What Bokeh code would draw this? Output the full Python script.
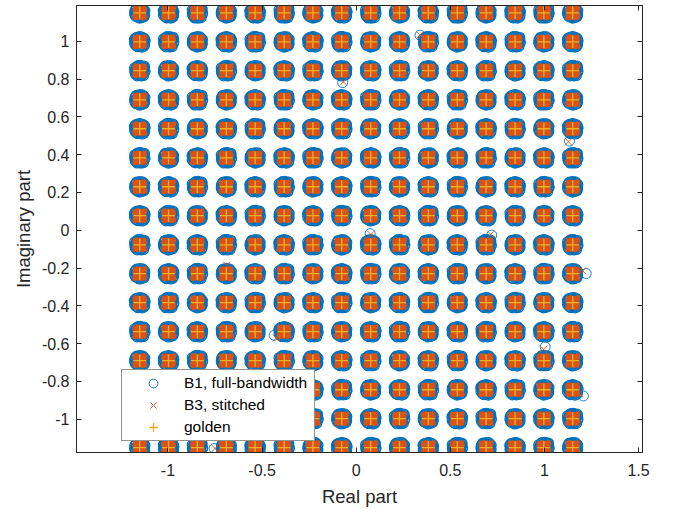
from bokeh.plotting import figure
from bokeh.models import Range1d, FixedTicker, LinearAxis, CustomJSTickFormatter, Legend, LegendItem
from bokeh.embed import file_html
from bokeh.resources import INLINE

# ---- data ----
# golden 256-QAM levels (both I and Q)
levels = [-1.150, -0.997, -0.844, -0.690, -0.537, -0.383, -0.230, -0.077,
          0.077, 0.230, 0.383, 0.537, 0.690, 0.844, 0.997, 1.150]

# cluster spread (offsets in thousandths of a unit)
b1_pattern_a = [(0, 3), (12, -8), (-10, 11), (5, -19), (-18, 2), (20, 10), (-3, -24), (9, 21), (-14, -12), (16, -4),
                (-22, 14), (2, 8), (25, -6), (-7, 18), (11, 16), (-25, -9), (18, -17), (-12, -22), (4, -2), (-5, 24),
                (14, 26), (-20, 19), (23, 6), (-15, 5), (8, -14), (-1, -28), (27, 12), (-27, -3), (6, 1), (-9, -6),
                (19, 20), (-21, -18), (-17, 24), (22, -21), (-26, 10), (26, -13), (0, 27), (-4, -15), (10, -25), (-24, -12)]
b1_pattern_b = [(3, -2), (-13, 7), (10, 13), (-6, -17), (19, -11), (-21, -5), (1, 22), (15, 4), (-9, -26), (24, 17),
                (-17, 16), (7, -23), (-26, 8), (13, -19), (-4, 12), (21, -1), (-11, -13), (28, 3), (-2, 27), (-19, -20),
                (9, 9), (-24, 1), (17, 22), (-8, -9), (5, -10), (-15, 23), (12, -28), (26, -15), (-28, 12), (0, -5),
                (-22, 20), (22, -24), (6, 26), (-27, -10), (18, 14), (-12, -25), (27, 8), (-6, 19), (14, -8), (-18, -3)]
b1_pattern_c = [(-2, 0), (9, -12), (-12, 9), (18, 5), (-7, -21), (4, 19), (-20, -8), (14, -20), (22, 14), (-16, 20),
                (7, 26), (-25, 3), (26, -8), (-10, -16), (1, -26), (16, 12), (-3, 14), (11, 3), (-18, -1), (24, 24),
                (-23, -17), (13, -4), (-6, 6), (6, -6), (-14, -27), (20, -25), (-27, 15), (3, 28), (-11, 24), (28, -2),
                (-26, -6), (17, -14), (-9, 27), (25, 18), (-19, 13), (9, -27), (-15, -19), (21, 7), (-1, -12), (12, 22)]
b3_pattern_a = [(0, 0), (8, -5), (-7, 6), (12, 10), (-11, -9), (4, 13), (-5, -12), (14, -2), (-14, 3), (9, 7),
                (-9, -3), (2, -8), (-3, 9), (6, -13), (-12, 12), (11, -11), (-1, 4), (5, 2), (-6, -6), (13, 14),
                (-13, -13), (15, 5), (-15, -6), (3, 15), (-4, -15), (10, -9), (-10, 10), (7, 4)]
b3_pattern_b = [(1, -1), (-8, 4), (7, 8), (-10, -11), (12, -7), (-4, 14), (3, -14), (-13, -2), (10, 2), (-2, -6),
                (6, 11), (-12, 8), (14, -12), (-6, -3), (4, -4), (-9, 13), (0, 7), (8, -10), (-14, -9), (11, 12),
                (15, -3), (-15, 5), (-2, -15), (5, 15), (13, 6), (-7, -13), (-11, 1), (9, -1)]

# isolated symbols
b1_outliers_x = [0.339, -0.072, 1.133, 0.074, 0.720, 1.222, 1.004, 1.207, -0.436, -0.755]
b1_outliers_y = [1.032, 0.781, 0.472, -0.018, -0.026, -0.229, -0.617, -0.877, -0.556, -1.155]
b3_outliers_x = [0.339, -0.068, 1.128, 0.078, 0.715, 1.204, 0.995, 1.185, -0.425, -0.750, -0.688]
b3_outliers_y = [1.032, 0.785, 0.468, -0.022, -0.022, -0.215, -0.630, -0.862, -0.570, -1.155, -0.185]

x_ticks = [-1, -0.5, 0, 0.5, 1, 1.5]
y_ticks = [-1, -0.8, -0.6, -0.4, -0.2, 0, 0.2, 0.4, 0.6, 0.8, 1]

series_names = ["B1, full-bandwidth", "B3, stitched", "golden"]

# ---- build point sets ----
b1_patterns = [b1_pattern_a, b1_pattern_b, b1_pattern_c]
b3_patterns = [b3_pattern_a, b3_pattern_b]
gx, gy, b1x, b1y, b3x, b3y = [], [], [], [], [], []
for i, xi in enumerate(levels):
    for j, yj in enumerate(levels):
        gx.append(xi)
        gy.append(yj)
        for dx, dy in b1_patterns[(i + 2 * j) % 3]:
            b1x.append(xi + dx / 1000.0)
            b1y.append(yj + dy / 1000.0)
        for dx, dy in b3_patterns[(i + j) % 2]:
            b3x.append(xi + dx / 1000.0)
            b3y.append(yj + dy / 1000.0)

FONT = "Liberation Sans"
TXT = "#262626"

p = figure(width=670, height=512, output_backend="svg", toolbar_location=None,
           x_range=Range1d(-1.486, 1.521), y_range=Range1d(-1.176, 1.189),
           min_border_left=76, min_border_right=28, min_border_top=5, min_border_bottom=60)
p.grid.visible = False
p.outline_line_color = TXT
p.outline_line_width = 1
p.background_fill_color = "white"
p.border_fill_color = "white"

p.scatter(b1x, b1y, marker="circle", size=10, fill_color=None, line_color="#0072BD", line_width=1.2)
r1 = p.scatter(b1_outliers_x, b1_outliers_y, marker="circle", size=10, fill_color=None, line_color="#0072BD", line_width=0.9)
p.scatter(b3x, b3y, marker="x", size=12, line_color="#D95319", line_width=2.0)
r2 = p.scatter(b3_outliers_x, b3_outliers_y, marker="x", size=10, line_color="#D95319", line_width=0.9)
r3 = p.scatter(gx, gy, marker="cross", size=13, line_color="#EDB120", line_width=1.3)

fmt = CustomJSTickFormatter(code="return tick.toString();")
blank = CustomJSTickFormatter(code="return '';")

for ax, ticks in ((p.xaxis[0], x_ticks), (p.yaxis[0], y_ticks)):
    ax.ticker = FixedTicker(ticks=ticks)
    ax.formatter = fmt
    ax.major_tick_in = 5
    ax.major_tick_out = 0
    ax.minor_tick_line_color = None
    ax.axis_line_color = TXT
    ax.major_tick_line_color = TXT
    ax.major_label_text_font = FONT
    ax.major_label_text_font_size = "16px"
    ax.major_label_text_color = TXT
    ax.axis_label_text_font = FONT
    ax.axis_label_text_font_size = "18.5px"
    ax.axis_label_text_font_style = "normal"
    ax.axis_label_text_color = TXT

p.xaxis[0].axis_label = "Real part"
p.yaxis[0].axis_label = "Imaginary part"
p.xaxis[0].major_label_standoff = 11
p.xaxis[0].axis_label_standoff = 7
p.yaxis[0].major_label_standoff = 7
p.yaxis[0].axis_label_standoff = 5

top = LinearAxis(ticker=FixedTicker(ticks=x_ticks), formatter=blank)
right = LinearAxis(ticker=FixedTicker(ticks=y_ticks), formatter=blank)
for ax in (top, right):
    ax.major_tick_in = 5
    ax.major_tick_out = 0
    ax.minor_tick_line_color = None
    ax.axis_line_color = TXT
    ax.major_tick_line_color = TXT
    ax.major_label_text_font_size = "0px"
    ax.major_label_standoff = 0
p.add_layout(top, "above")
p.add_layout(right, "right")

legend = Legend(items=[LegendItem(label=series_names[0], renderers=[r1]),
                       LegendItem(label=series_names[1], renderers=[r2]),
                       LegendItem(label=series_names[2], renderers=[r3])],
                location=(45, 11), margin=0, padding=2, spacing=0,
                glyph_width=58, glyph_height=22, label_height=21, label_width=128,
                label_standoff=2,
                label_text_font=FONT, label_text_font_size="15.5px", label_text_color="#000000",
                border_line_color=TXT, border_line_width=1, background_fill_color="white",
                background_fill_alpha=1)
p.add_layout(legend, "center")

open("out.html", "w").write(file_html(p, INLINE))
